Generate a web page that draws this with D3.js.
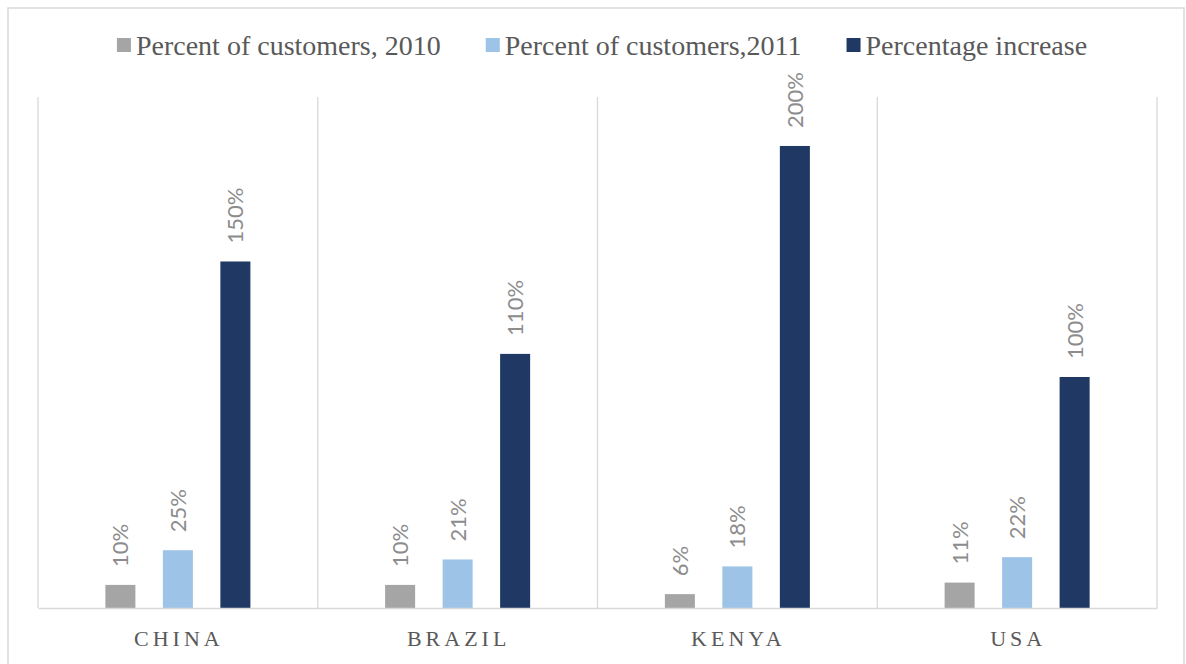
<!DOCTYPE html>
<html>
<head>
<meta charset="utf-8">
<script src="https://cdn.jsdelivr.net/npm/d3@7"></script>
<style>
  html, body { margin: 0; padding: 0; background: #ffffff; }
  svg { display: block; }
</style>
</head>
<body>
<svg id="chart" width="1186" height="664"></svg>
<script>
// Customer share by country, 2010 vs 2011, and the percentage increase
const countries = ["CHINA", "BRAZIL", "KENYA", "USA"];
const seriesNames = ["Percent of customers, 2010", "Percent of customers,2011", "Percentage increase"];
const customers2010 = [0.10, 0.10, 0.06, 0.11];
const customers2011 = [0.25, 0.21, 0.18, 0.22];
const increase = [1.50, 1.10, 2.00, 1.00];
const seriesColors = ["#A5A5A5", "#9DC3E6", "#203864"];

const seriesValues = [customers2010, customers2011, increase];
const rows = countries.map((c, i) => ({
  country: c,
  values: seriesNames.map((s, k) => ({ series: s, value: seriesValues[k][i], color: seriesColors[k] }))
}));

const W = 1186, H = 664;
const svg = d3.select("#chart");

// outer frame
svg.append("rect")
  .attr("x", 8).attr("y", 8)
  .attr("width", 1176).attr("height", 670)
  .attr("fill", "#ffffff")
  .attr("stroke", "#d9d9d9").attr("stroke-width", 1.5);

const plot = { left: 38, right: 1157, top: 97, bottom: 608 };

const x0 = d3.scaleBand()
  .domain(countries)
  .range([plot.left, plot.right])
  .paddingInner(0).paddingOuter(0);

const slotSpan = 172.5;
const x1 = d3.scaleBand()
  .domain(seriesNames)
  .range([(x0.bandwidth() - slotSpan) / 2, (x0.bandwidth() + slotSpan) / 2])
  .paddingInner(0.478)
  .paddingOuter(0.239);

const y = d3.scaleLinear()
  .domain([0, 2.212])
  .range([plot.bottom, plot.top]);

// vertical gridlines at category boundaries
const gridX = countries.map(c => x0(c)).concat([x0(countries[countries.length - 1]) + x0.bandwidth()]);
svg.append("g").selectAll("line")
  .data(gridX)
  .join("line")
  .attr("x1", d => d).attr("x2", d => d)
  .attr("y1", plot.top).attr("y2", plot.bottom)
  .attr("stroke", "#d9d9d9").attr("stroke-width", 1.3);

// bars
const groups = svg.append("g").selectAll("g")
  .data(rows)
  .join("g")
  .attr("transform", d => `translate(${x0(d.country)},0)`);

groups.selectAll("rect")
  .data(d => d.values)
  .join("rect")
  .attr("x", d => x1(d.series))
  .attr("width", x1.bandwidth())
  .attr("y", d => y(d.value))
  .attr("height", d => y(0) - y(d.value))
  .attr("fill", d => d.color);

// rotated value labels above the bars
const fmt = d3.format(".0%");
groups.selectAll("text.value")
  .data(d => d.values)
  .join("text")
  .attr("class", "value")
  .attr("transform", d => `translate(${x1(d.series) + x1.bandwidth() / 2},${y(d.value) - 18}) rotate(-90)`)
  .attr("dy", "0.36em")
  .attr("text-anchor", "start")
  .attr("font-family", "Lato, 'Open Sans', sans-serif")
  .attr("font-size", 22)
  .attr("fill", "#8c8c8c")
  .text(d => fmt(d.value));

// category axis
const xAxis = d3.axisBottom(x0).tickSize(0).tickPadding(0);
const axisG = svg.append("g")
  .attr("transform", `translate(0,${plot.bottom})`)
  .call(xAxis);
axisG.select(".domain")
  .attr("stroke", "#d9d9d9").attr("stroke-width", 1.5);
axisG.selectAll(".tick text")
  .attr("y", 38)
  .attr("dy", 0)
  .attr("dx", 1)
  .attr("font-family", "'Liberation Serif', 'Times New Roman', serif")
  .attr("font-size", 22)
  .attr("letter-spacing", 4)
  .attr("fill", "#595959");

// legend
const legend = svg.append("g");
const items = legend.selectAll("g")
  .data(seriesNames.map((s, k) => ({ name: s, color: seriesColors[k] })))
  .join("g");
items.append("rect")
  .attr("width", 14).attr("height", 14)
  .attr("y", 38)
  .attr("fill", d => d.color);
items.append("text")
  .attr("x", 19)
  .attr("y", 55)
  .attr("font-family", "'Liberation Serif', 'Times New Roman', serif")
  .attr("font-size", 28)
  .attr("fill", "#595959")
  .text(d => d.name);

const gap = 45;
let widths = [];
items.each(function () {
  widths.push(19 + d3.select(this).select("text").node().getComputedTextLength());
});
const total = d3.sum(widths) + gap * (widths.length - 1);
let cx = 602 - total / 2;
items.each(function (d, i) {
  d3.select(this).attr("transform", `translate(${cx},0)`);
  cx += widths[i] + gap;
});
</script>
</body>
</html>
